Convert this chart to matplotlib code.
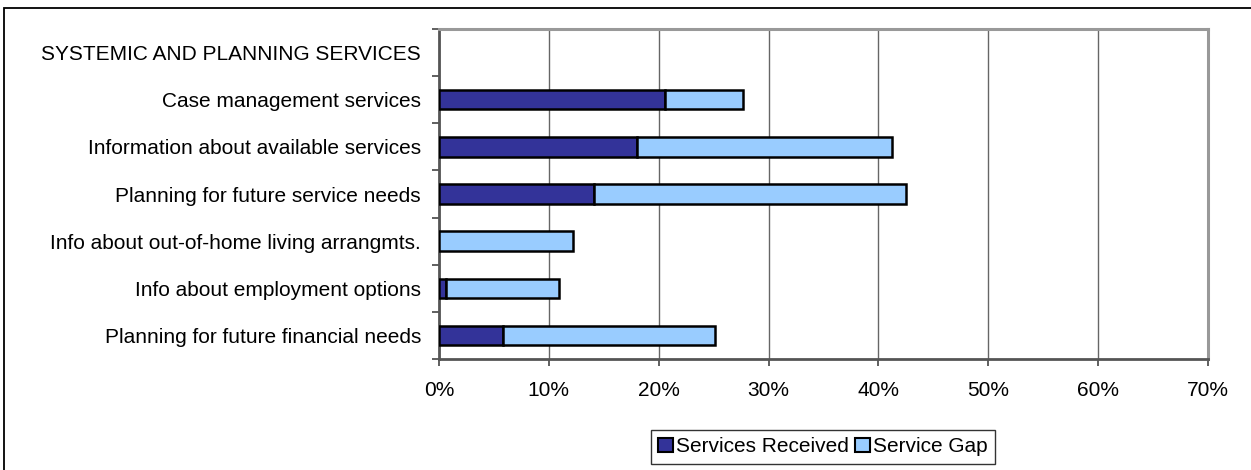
import numpy as np
import matplotlib.pyplot as plt
from matplotlib.patches import Rectangle
from matplotlib.ticker import FuncFormatter, FixedLocator

plt.rcParams['font.family'] = ['Liberation Sans', 'DejaVu Sans']

# rows top to bottom; the first row is a section header with no bars
categories = [
    "SYSTEMIC AND PLANNING SERVICES",
    "Case management services",
    "Information about available services",
    "Planning for future service needs",
    "Info about out-of-home living arrangmts.",
    "Info about employment options",
    "Planning for future financial needs",
]
received = [0.0, 20.6, 18.0, 14.1, 0.0, 0.6, 5.8]
gap = [0.0, 7.1, 23.2, 28.4, 12.2, 10.3, 19.3]

dark_blue = "#333399"
light_blue = "#99ccff"

fig = plt.figure(figsize=(12.51, 4.70), dpi=100)
ax = fig.add_axes([439 / 1251, 1 - 359 / 470, 769 / 1251, 330 / 470])

y = np.arange(len(categories))[::-1]
rec = np.array(received)
gp = np.array(gap)
has_bar = (rec + gp) > 0

ax.barh(y[has_bar & (rec > 0)], rec[has_bar & (rec > 0)], height=0.41,
        color=dark_blue, edgecolor="black", linewidth=1.8, zorder=3,
        label="Services Received")
ax.barh(y[has_bar], gp[has_bar], left=rec[has_bar], height=0.41,
        color=light_blue, edgecolor="black", linewidth=1.8, zorder=3,
        label="Service Gap")

ax.set_xlim(0, 70)
ax.set_ylim(-0.5, len(categories) - 0.5)
ax.xaxis.set_major_locator(FixedLocator(np.arange(0, 71, 10)))
ax.xaxis.set_major_formatter(FuncFormatter(lambda v, p: f"{int(v)}%"))
ax.grid(axis="x", color="#666666", linewidth=1.0, zorder=0)

ax.set_yticks(y)
ax.set_yticklabels(categories)
ax.yaxis.set_minor_locator(FixedLocator(np.arange(-0.5, len(categories), 1.0)))
ax.tick_params(axis="y", which="major", length=0, pad=13, labelsize=15)
ax.tick_params(axis="y", which="minor", length=5, width=1.2, color="#444444")
ax.tick_params(axis="x", length=5, width=1.2, color="#444444", pad=11, labelsize=15)

for side in ("left", "bottom"):
    ax.spines[side].set_color("#555555")
    ax.spines[side].set_linewidth(2)
for side in ("top", "right"):
    ax.spines[side].set_color("#999999")
    ax.spines[side].set_linewidth(2.2)

leg = ax.legend(loc="upper center", bbox_to_anchor=(823 / 1251, 1 - 430 / 470),
                bbox_transform=fig.transFigure, ncol=2, fontsize=15,
                frameon=True, fancybox=False, handlelength=0.7, handleheight=0.7,
                handletextpad=0.15, columnspacing=0.3, borderpad=0.35,
                borderaxespad=0)
leg.get_frame().set_edgecolor("black")
leg.get_frame().set_linewidth(1.0)
for h in leg.legend_handles:
    h.set_linewidth(1.5)

# outer chart border (runs past the right and bottom edges)
fig.patches.append(Rectangle((4 / 1251, -0.1), 1.2, 1.1 - 8 / 470,
                             transform=fig.transFigure, fill=False,
                             edgecolor="black", linewidth=1.3))

fig.savefig("out.png", dpi=100)
